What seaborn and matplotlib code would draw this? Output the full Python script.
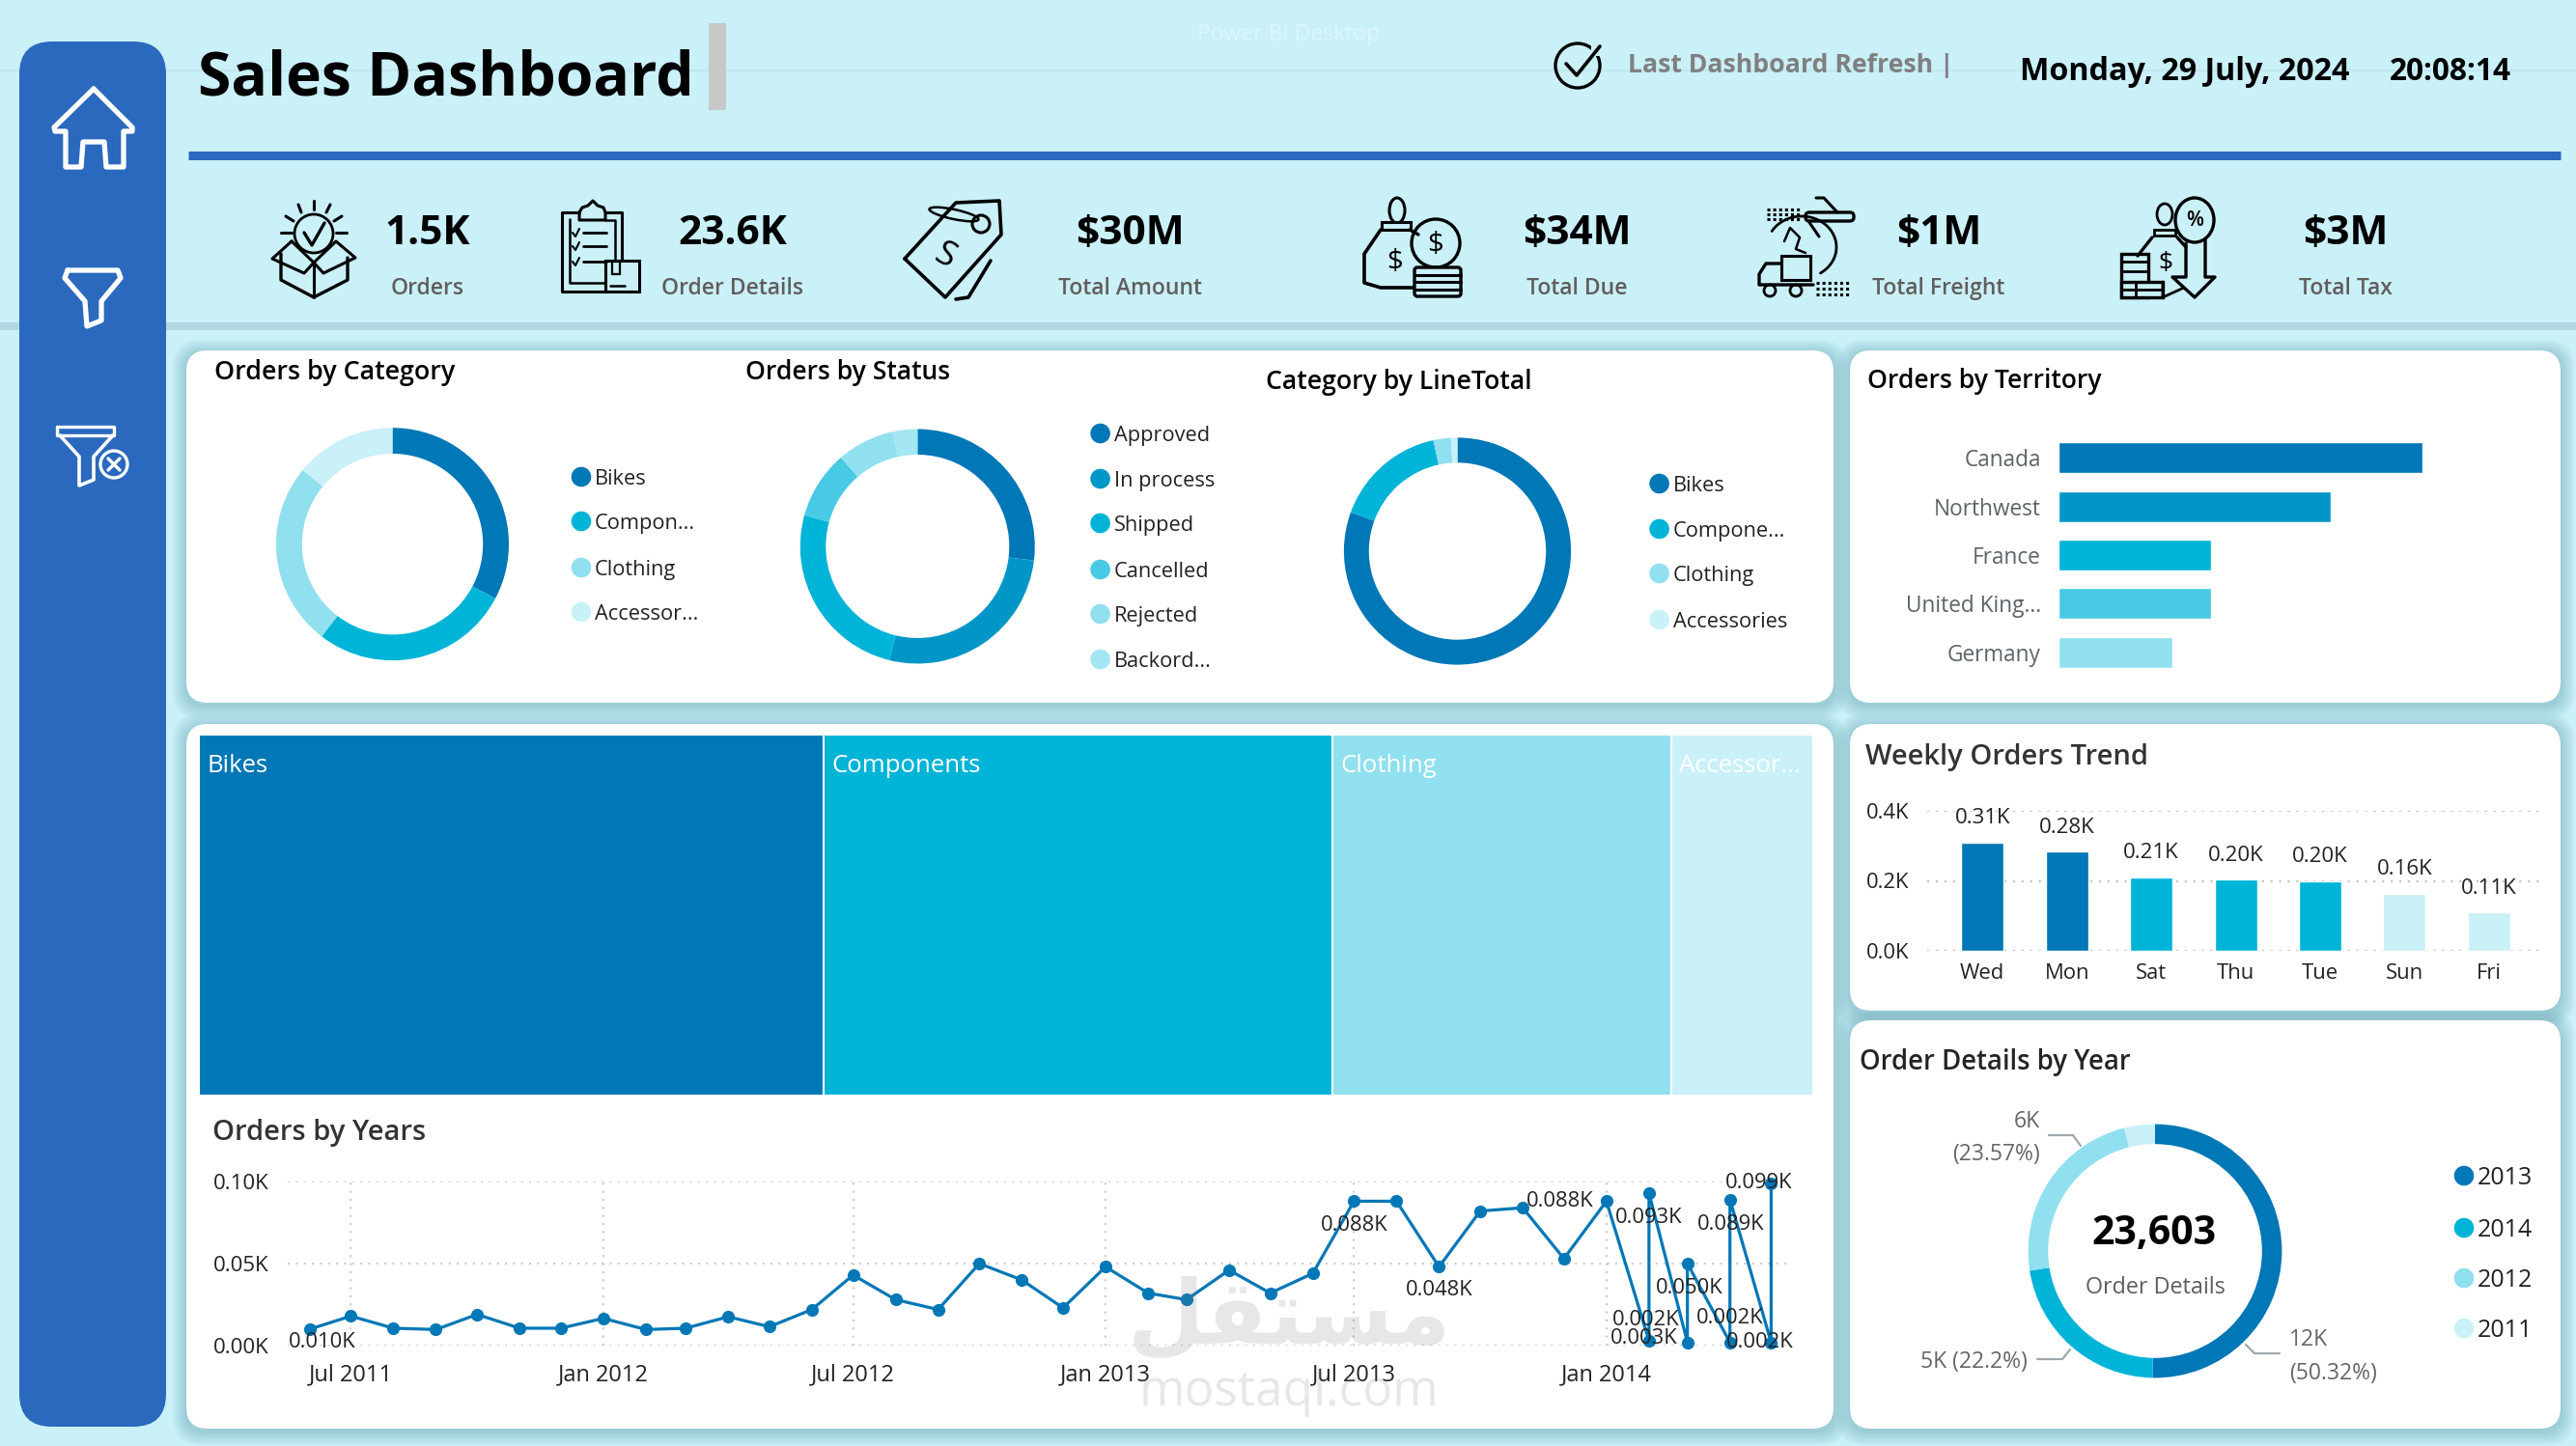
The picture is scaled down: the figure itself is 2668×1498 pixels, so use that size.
import numpy as np
import pandas as pd
import seaborn as sns
import matplotlib.pyplot as plt
from matplotlib.patches import FancyBboxPatch, Rectangle, Circle, Ellipse

# colours
DARK = '#0077B6'
MID = '#0096C7'
TEAL = '#00B4D8'
SKY = '#48CAE4'
LIGHT = '#90E0EF'
PALE = '#CAF0F8'
BLUE = '#2A69BD'
GREY = '#605E5C'

# data
category_names = ['Bikes', 'Compon...', 'Clothing', 'Accessor...']
category_orders = [32.75, 27.7, 25.6, 14.0]

status_names = ['Approved', 'In process', 'Shipped', 'Cancelled', 'Rejected', 'Backord...']
status_orders = [26.9, 26.9, 25.4, 9.4, 7.9, 3.4]

linetotal_names = ['Bikes', 'Compone...', 'Clothing', 'Accessories']
linetotal_share = [80.4, 16.0, 2.5, 0.9]

treemap_names = ['Bikes', 'Components', 'Clothing', 'Accessor...']
treemap_values = [38.7, 31.5, 21.0, 8.8]

territories = ['Canada', 'Northwest', 'France', 'United King...', 'Germany']
territory_orders = [320, 239, 134, 134, 100]

week_days = ['Wed', 'Mon', 'Sat', 'Thu', 'Tue', 'Sun', 'Fri']
week_orders = [0.31, 0.284, 0.21, 0.204, 0.2, 0.164, 0.11]

year_names = ['2013', '2014', '2012', '2011']
year_details = [11877, 5240, 5563, 923]

order_months = ['Jun 2011', 'Jul 2011', 'Aug 2011', 'Sep 2011', 'Oct 2011', 'Nov 2011', 'Dec 2011',
                'Jan 2012', 'Feb 2012', 'Mar 2012', 'Apr 2012', 'May 2012', 'Jun 2012', 'Jul 2012',
                'Aug 2012', 'Sep 2012', 'Oct 2012', 'Nov 2012', 'Dec 2012', 'Jan 2013', 'Feb 2013',
                'Mar 2013', 'Apr 2013', 'May 2013', 'Jun 2013', 'Jul 2013', 'Aug 2013', 'Sep 2013',
                'Oct 2013', 'Nov 2013', 'Dec 2013', 'Jan 2014', 'Feb 2014', 'Feb 2014', 'Mar 2014',
                'Mar 2014', 'Apr 2014', 'Apr 2014', 'May 2014', 'May 2014']
order_counts = [0.0100, 0.018, 0.0106, 0.0098, 0.019, 0.0106, 0.0106,
                0.0166, 0.0098, 0.0106, 0.0176, 0.0115, 0.022, 0.043,
                0.028, 0.022, 0.050, 0.040, 0.023, 0.048, 0.032,
                0.028, 0.046, 0.032, 0.044, 0.088, 0.088, 0.048,
                0.082, 0.084, 0.053, 0.088, 0.003, 0.093, 0.002,
                0.050, 0.002, 0.089, 0.002, 0.099]
year_ticks = ['Jul 2011', 'Jan 2012', 'Jul 2012', 'Jan 2013', 'Jul 2013', 'Jan 2014']

# which points carry a label, and where it sits relative to the point (px)
line_labels = {0: (13, 14), 25: (0, 25), 27: (0, 24), 31: (-48, 0), 32: (-5, -2), 33: (0, 26),
               34: (-43, -23), 35: (2, 25), 36: (0, -25), 37: (1, 26), 38: (-12, 0), 39: (-13, 0)}

W, H = 2668, 1498
sns.set_theme(style='white')
plt.rcParams['font.family'] = ['Open Sans', 'DejaVu Sans']

fig = plt.figure(figsize=(W / 100, H / 100), dpi=100, facecolor=PALE)


def px_axes(x0, y0, x1, y1, z=2):
    ax = fig.add_axes([x0 / W, 1 - y1 / H, (x1 - x0) / W, (y1 - y0) / H], zorder=z)
    ax.patch.set_alpha(0)
    return ax


bg = px_axes(0, 0, W, H, z=0)
bg.set_xlim(0, W)
bg.set_ylim(H, 0)
bg.axis('off')


def card(x0, y0, x1, y1, r=22, color='white'):
    for i in range(7, 0, -1):
        bg.add_patch(FancyBboxPatch((x0 - i * 2, y0 - i * 2 + 3), x1 - x0 + i * 4, y1 - y0 + i * 4,
                                    boxstyle=f'round,pad=0,rounding_size={r + i}',
                                    fc='#3f8898', ec='none', alpha=0.05))
    bg.add_patch(FancyBboxPatch((x0, y0), x1 - x0, y1 - y0, boxstyle=f'round,pad=0,rounding_size={r}',
                                fc=color, ec='none'))


def line(pts, lw=3.0, color='black', closed=False):
    pts = list(pts)
    if closed:
        pts = pts + [pts[0]]
    xs, ys = zip(*pts)
    bg.plot(xs, ys, color=color, lw=lw, solid_joinstyle='round', solid_capstyle='round')


def text(x, y, s, size, color='black', ha='left', weight='normal', **kw):
    # va center sits a little high for this font, so nudge by size
    bg.text(x, y + 0.15 * size, s, fontsize=size, color=color, ha=ha, va='center', fontweight=weight, **kw)


def ring(cx, cy, R, inner, values, colors):
    ax = px_axes(cx - R, cy - R, cx + R, cy + R)
    ax.pie(values, colors=colors, startangle=90, counterclock=False, radius=1,
           wedgeprops={'width': 1 - inner / R, 'linewidth': 0})
    ax.set_xlim(-1, 1)
    ax.set_ylim(-1, 1)
    return ax


def legend(x, ys, names, colors, size=15.7):
    for y, name, c in zip(ys, names, colors):
        bg.add_patch(Circle((x, y), 10.3, fc=c, ec='none'))
        text(x + 14, y, name, size, color='#222222')


# header band and page furniture
bg.add_patch(Rectangle((0, 334), W, 8, fc='#a9cfd8', ec='none', alpha=0.7))
bg.plot([0, W], [73, 73], color='#bfe8f0', lw=1.5, zorder=0.5)
bg.plot([195, 2652], [160.5, 160.5], color=BLUE, lw=6.5, solid_capstyle='butt')
bg.add_patch(Rectangle((734, 24), 17.5, 90, fc='#C8C8C8', ec='none'))
text(1334, 34, 'Power BI Desktop', 16.5, color='#ddf6fb', ha='center')
text(205, 75, 'Sales Dashboard', 45, weight='bold')
text(1686, 65, 'Last Dashboard Refresh |', 19.2, color='#808080', weight='bold')
text(2092, 71, 'Monday, 29 July, 2024', 23.2, weight='bold')
text(2475, 71, '20:08:14', 22.8, weight='bold')

# sidebar
bg.add_patch(FancyBboxPatch((20, 43), 152, 1435, boxstyle='round,pad=0,rounding_size=34', fc=BLUE, ec='none'))

# cards
card(193, 363, 1899, 728)
card(1916, 363, 2652, 728)
card(193, 750, 1899, 1480)
card(1916, 750, 2652, 1047)
card(1916, 1057, 2652, 1480)

# sidebar icons
line([(97, 92), (137, 132), (137, 136), (128, 136), (128, 173), (110, 173), (108, 147), (86, 147),
      (84, 173), (68, 173), (68, 136), (57, 136), (56, 132)], lw=3.8, color='white', closed=True)
line([(70, 280), (122, 280), (125, 288), (105, 312), (105, 332), (90, 338), (88, 312), (67, 288)],
     lw=3.8, color='white', closed=True)
line([(59, 442), (118, 442), (118, 451), (59, 451)], lw=2.4, color='white', closed=True)
line([(62, 451), (82, 473), (82, 503), (97, 497), (97, 473), (117, 451)], lw=2.6, color='white')
bg.add_patch(Circle((118, 481), 14, fc='none', ec='white', lw=2.4))
line([(112, 475), (124, 487)], lw=2.4, color='white')
line([(124, 475), (112, 487)], lw=2.4, color='white')

# refresh check icon
bg.add_patch(Circle((1634, 68), 23, fc='none', ec='black', lw=2.4))
bg.add_patch(Rectangle((1648, 46), 12, 12, fc=PALE, ec='none', zorder=1.5))
line([(1622, 66), (1633, 78), (1657, 48)], lw=2.6)

# box icon
bg.add_patch(Circle((325, 242), 20, fc='none', ec='black', lw=2))
line([(315, 241), (323, 254), (336, 231)], lw=2.4)
for a, b in [((325, 208), (325, 217)), ((309, 212), (312, 220)), ((342, 212), (338, 220)),
             ((296, 224), (304, 229)), ((354, 224), (346, 229)), ((291, 241), (302, 241)),
             ((348, 241), (359, 241))]:
    line([a, b], lw=2.2)
line([(291, 263), (291, 290), (325, 308), (360, 290), (360, 267)], lw=2.4)
line([(325, 272), (325, 308)], lw=2.2)
line([(302, 250), (282, 268), (315, 283), (325, 272), (335, 283), (368, 267), (348, 250), (325, 272), (302, 250)], lw=2.2)

# clipboard icon
line([(600, 220), (582, 220), (582, 302), (627, 302)], lw=2.2)
line([(627, 220), (644, 220), (644, 270)], lw=2.2)
line([(590, 227), (590, 293), (627, 293)], lw=1.8)
line([(627, 228), (637, 228), (637, 270)], lw=1.8)
line([(600, 220), (603, 215), (609, 213), (614, 208), (619, 213), (625, 215), (627, 220), (627, 228), (600, 228)],
     lw=2.2, closed=True)
for y in [241, 255, 271]:
    line([(593, y), (596, y + 4), (600, y - 4)], lw=1.5)
    line([(604, y), (628, y)], lw=2.0)
bg.add_patch(Rectangle((627, 270), 35, 32, fc=PALE, ec='black', lw=2.2))
bg.add_patch(Rectangle((634, 271), 8, 13, fc='none', ec='black', lw=1.6))
line([(632, 296), (647, 296)], lw=1.8)

# price tag icon
line([(937, 268), (990, 210), (1035, 208), (1037, 243), (979, 308)], lw=2.6, closed=True)
line([(1026, 270), (1003, 308), (990, 310)], lw=2.6)
bg.add_patch(Circle((1016, 232), 9, fc='none', ec='black', lw=2.2))
bg.add_patch(Ellipse((988, 222), 52, 10, angle=12, fc='none', ec='black', lw=1.8))
text(978, 262, 'S', 26, ha='center', rotation=-28)

# money bag icon
line([(1430, 238), (1413, 263), (1413, 293), (1430, 298), (1464, 298)], lw=2.6)
line([(1460, 238), (1469, 243)], lw=2.4)
bg.add_patch(Ellipse((1447, 218), 16, 26, fc='none', ec='black', lw=2.2))
bg.add_patch(Rectangle((1431, 230), 30, 8, fc=PALE, ec='black', lw=2.2))
bg.add_patch(Circle((1487, 252), 25, fc=PALE, ec='black', lw=2.4))
text(1487, 250, '$', 21, ha='center')
text(1445, 268, '$', 21, ha='center')
bg.add_patch(FancyBboxPatch((1465, 277), 48, 30, boxstyle='round,pad=0,rounding_size=3', fc=PALE, ec='black', lw=2.4))
for y in [285, 292, 300]:
    line([(1465, y), (1513, y)], lw=2.2)

# freight icon
bg.add_patch(FancyBboxPatch((1870, 220), 50, 9, boxstyle='round,pad=0,rounding_size=4', fc=PALE, ec='black', lw=2.4))
line([(1881, 205), (1889, 205), (1903, 220)], lw=2.2)
line([(1873, 229), (1884, 245)], lw=2.2)
for y in [217, 222, 227]:
    bg.plot([1830, 1864], [y, y], color='black', lw=2.2, ls=(0, (1, 1)))
for y in [293, 299, 305]:
    bg.plot([1881, 1915], [y, y], color='black', lw=2.2, ls=(0, (1, 1)))
t = np.linspace(-2.6, 1.0, 40)
line(zip(1866 + 36 * np.cos(t), 256 + 32 * np.sin(t)), lw=2.0)
line([(1848, 250), (1854, 236), (1864, 246), (1860, 258), (1870, 262)], lw=1.8)
bg.add_patch(Rectangle((1845, 265), 30, 25, fc=PALE, ec='black', lw=2.2))
line([(1845, 273), (1829, 273), (1822, 284), (1822, 295), (1878, 295)], lw=2.4)
for x in [1833, 1860]:
    bg.add_patch(Circle((x, 301), 6, fc=PALE, ec='black', lw=2.0))

# tax icon
bg.add_patch(Ellipse((2273, 228), 40, 46, fc='none', ec='black', lw=2.4))
text(2273, 226, '%', 15, ha='center', weight='semibold')
line([(2264, 252), (2264, 287), (2250, 287), (2273, 308), (2294, 287), (2284, 287), (2284, 248)], lw=2.4)
bg.add_patch(Ellipse((2242, 222), 16, 22, fc='none', ec='black', lw=2.0))
bg.add_patch(Rectangle((2231, 238), 22, 6, fc=PALE, ec='black', lw=2.0))
line([(2229, 246), (2214, 265)], lw=2.4)
line([(2255, 246), (2264, 256)], lw=2.4)
line([(2240, 292), (2240, 308), (2262, 298)], lw=2.0)
text(2243, 270, '$', 19, ha='center')
bg.add_patch(Rectangle((2197, 263), 28, 45, fc=PALE, ec='black', lw=2.4))
bg.add_patch(Rectangle((2197, 292), 43, 16, fc=PALE, ec='black', lw=2.4))
for y, x1 in [(271, 2225), (281, 2225), (300, 2240)]:
    line([(2197, y), (x1, y)], lw=2.0)
line([(2212, 292), (2212, 308)], lw=2.0)

# KPI row
kpi_values = ['1.5K', '23.6K', '$30M', '$34M', '$1M', '$3M']
kpi_names = ['Orders', 'Order Details', 'Total Amount', 'Total Due', 'Total Freight', 'Total Tax']
kpi_x = [443, 759, 1170, 1633, 2008, 2429]
for x, v, n in zip(kpi_x, kpi_values, kpi_names):
    text(x, 238, v, 30.5, ha='center', weight='bold')
    text(x, 297, n, 16.5, color=GREY, ha='center', weight='semibold')

# card titles
text(222, 383, 'Orders by Category', 19.3, weight='semibold')
text(772, 383, 'Orders by Status', 19.1, weight='semibold')
text(1311, 393, 'Category by LineTotal', 19.2, weight='semibold')
text(1934, 392, 'Orders by Territory', 19.1, weight='semibold')
text(1932, 781, 'Weekly Orders Trend', 21, color='#333333', weight='semibold')
text(1926, 1098, 'Order Details by Year', 19.8, color='#252423', weight='semibold')
text(220, 1170, 'Orders by Years', 21, color='#333333', weight='semibold')

# donuts
cat_colors = [DARK, TEAL, LIGHT, PALE]
ring(406.5, 563.7, 120.5, 93.7, category_orders, cat_colors)
legend(602, [494, 540, 588, 634], category_names, cat_colors)

status_colors = [DARK, MID, TEAL, SKY, LIGHT, '#A5E6F3']
ring(950.3, 566, 121.5, 95, status_orders, status_colors)
legend(1139.6, [449, 496, 542, 590, 636, 683], status_names, status_colors)

ring(1509.5, 571, 117.6, 91.7, linetotal_share, cat_colors)
legend(1718.6, [501, 548, 594, 642], linetotal_names, cat_colors)

year_colors = [DARK, TEAL, LIGHT, PALE]
ring(2232, 1296, 131.4, 110.8, year_details, year_colors)
legend(2552, [1218, 1272, 1324, 1376], year_names, year_colors, size=18)
text(2231, 1274, f'{sum(year_details):,}', 29.5, ha='center', weight='bold')
text(2232, 1331, 'Order Details', 16.8, color=GREY, ha='center')
for x, y, s, ha in [(2113, 1160, '6K', 'right'), (2113, 1194, '(23.57%)', 'right'),
                    (2100, 1409, '5K (22.2%)', 'right'), (2371, 1386, '12K', 'left'),
                    (2371, 1421, '(50.32%)', 'left')]:
    text(x, y, s, 16.5, color='#666666', ha=ha)
line([(2122, 1176), (2147, 1176), (2155, 1187)], lw=1.6, color='#A0A8AC')
line([(2110, 1408), (2136, 1408), (2144, 1398)], lw=1.6, color='#A0A8AC')
line([(2361, 1402), (2335, 1402), (2326, 1393)], lw=1.6, color='#A0A8AC')

# treemap
tree = px_axes(206, 761, 1878, 1135)
left = 0
for name, value, c in zip(treemap_names, treemap_values, cat_colors):
    tree.barh(0, value, left=left, height=1, color=c, edgecolor='white', linewidth=1.5)
    tree.text(left + 0.5, 0.413, name, color='white', fontsize=18.5, va='center')
    left += value
tree.set_xlim(0, left)
tree.set_ylim(-0.5, 0.5)
tree.axis('off')

# territory bars
terr = px_axes(2132, 449, 2530, 701)
sns.barplot(x=territory_orders, y=territories, hue=territories, ax=terr, width=0.634, legend=False,
            palette=[DARK, MID, TEAL, SKY, LIGHT], orient='h', saturation=1)
terr.set_xlim(0, 337.8)
terr.set_ylim(4.5, -0.5)
terr.set_xlabel('')
terr.set_ylabel('')
terr.set_xticks([])
terr.tick_params(axis='y', length=0, pad=13, labelsize=16.3, labelcolor='#5c6468')
sns.despine(ax=terr, left=True, bottom=True)

# weekly bars
week = px_axes(1995.6, 840, 2634, 985)
sns.barplot(x=week_days, y=week_orders, hue=week_days, ax=week, width=0.504, legend=False,
            palette=[DARK, DARK, TEAL, TEAL, TEAL, PALE, PALE], saturation=1, zorder=3)
week.set_xlim(-0.66, 6.643)
week.set_ylim(0, 0.4)
week.set_yticks([0, 0.2, 0.4], ['0.0K', '0.2K', '0.4K'])
week.tick_params(axis='both', length=0, labelsize=15.8, labelcolor='#222222')
week.tick_params(axis='y', pad=13)
week.tick_params(axis='x', pad=9)
week.grid(axis='y', color='#c4c4c4', lw=1.6, ls=(0, (1, 3)))
week.set_axisbelow(True)
for i, v in enumerate(week_orders):
    week.annotate(f'{v:.2f}K', (i, v), xytext=(0, 18), textcoords='offset points', ha='center',
                  va='center', fontsize=16, color='#222222')
sns.despine(ax=week, left=True, bottom=True)

# orders by years line
months = pd.to_datetime(order_months, format='%b %Y')
df_orders = pd.DataFrame({'month': months, 'orders': order_counts})
yr = px_axes(298, 1224, 1850, 1394, z=3)
sns.lineplot(data=df_orders, x='month', y='orders', ax=yr, sort=False, estimator=None, color=DARK,
             lw=2.3, marker='o', markersize=9.5, markeredgewidth=0, clip_on=False, zorder=3)
yr.set_xlim(pd.Timestamp('2011-05-16'), pd.Timestamp('2014-05-12'))
yr.set_ylim(0, 0.1)
yr.set_xticks(pd.to_datetime(year_ticks, format='%b %Y'), year_ticks)
yr.set_yticks([0, 0.05, 0.1], ['0.00K', '0.05K', '0.10K'])
yr.set_xlabel('')
yr.set_ylabel('')
yr.tick_params(axis='y', length=0, labelsize=16, labelcolor='#222222', pad=14)
yr.tick_params(axis='x', length=0, labelsize=17, labelcolor='#222222', pad=13)
yr.grid(True, color='#cccccc', lw=1.5, ls=(0, (1, 3)))
yr.set_axisbelow(True)
sns.despine(ax=yr, left=True, bottom=True)
for i, (dx, dy) in line_labels.items():
    yr.annotate(f'{order_counts[i]:.3f}K', (months[i], order_counts[i]), xytext=(dx * 0.72, -dy * 0.72),
                textcoords='offset points', ha='center', va='center', fontsize=15.8, color='#222222',
                annotation_clip=False, zorder=4)

# site watermark over everything
mark = px_axes(0, 0, W, H, z=10)
mark.set_xlim(0, W)
mark.set_ylim(H, 0)
mark.axis('off')
mark.text(1335, 1365, '\ufede\ufed8\ufe98\ufeb4\ufee3', fontsize=66, family='DejaVu Sans', fontweight='bold',
          color='#7f7f7f', alpha=0.18, ha='center', va='center')
mark.text(1335, 1442, 'mostaql.com', fontsize=37, color='#7f7f7f', alpha=0.18, ha='center', va='center')

fig.savefig('out.png', dpi=100, facecolor=fig.get_facecolor())
